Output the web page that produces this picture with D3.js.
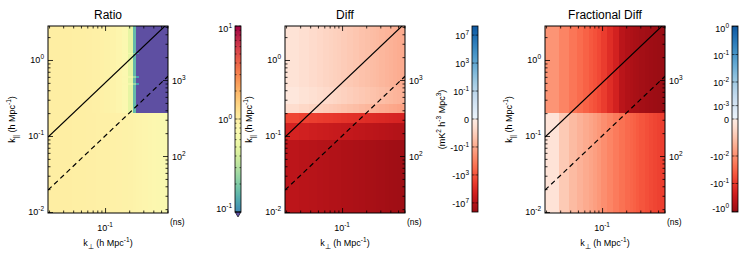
<!DOCTYPE html>
<html>
<head>
<meta charset="utf-8">
<script src="https://cdn.jsdelivr.net/npm/d3@7"></script>
<style>
  body { margin: 0; background: #fff; }
  svg { display: block; font-family: "Liberation Sans", Arial, sans-serif; }
</style>
</head>
<body>
<div id="chart"></div>
<script>
// k_perp bin edges (h Mpc^-1), shared by all three panels
const kPerpEdges = [0.0194, 0.0291, 0.0388, 0.0485, 0.0582, 0.0679, 0.0776, 0.0873, 0.097,
  0.1164, 0.1358, 0.1649, 0.194, 0.2231, 0.2425, 0.2619, 0.291, 0.3395, 0.388, 0.4365,
  0.485, 0.5335, 0.61];
const kParRange = [0.0097, 2.8];
const delayPerK = 1835; // ns per h Mpc^-1

// Ratio panel
const ratioParEdges = [0.0097, 0.2, 0.48, 0.51, 0.58, 0.62, 1.2, 1.26, 2.8];
const ratioLow = [1.0, 1.0, 0.99, 0.99, 0.98, 0.98, 0.97, 0.97, 0.96, 0.95, 0.94, 0.93,
  0.92, 0.9, 0.89, 0.88, 0.86, 0.84, 0.82, 0.8, 0.76, 0.72];
const ratioHigh = [1.0, 1.0, 0.99, 0.99, 0.98, 0.97, 0.96, 0.95, 0.93, 0.9, 0.86, 0.78,
  0.5, 0.16, 0.04, 0.04, 0.04, 0.04, 0.04, 0.04, 0.04, 0.04];
const ratioStreak = [1.0, 1.0, 0.99, 0.99, 0.98, 0.97, 0.96, 0.95, 0.93, 0.9, 0.86, 0.8,
  0.6, 0.25, 0.12, 0.04, 0.04, 0.04, 0.04, 0.04, 0.04, 0.04];
const ratioRows = [ratioLow, ratioHigh, ratioStreak, ratioHigh, ratioStreak, ratioHigh, ratioStreak, ratioHigh];

// Diff panel (mK^2 h^-3 Mpc^3)
const diffParEdges = [0.0097, 0.089, 0.148, 0.2, 0.264, 0.45, 2.8];
const diffBand0 = [-5.3e6, -7.2e6, -9.1e6, -1.1e7, -1.3e7, -1.5e7, -1.6e7, -1.8e7, -2.1e7,
  -2.4e7, -2.8e7, -3.3e7, -3.8e7, -4.2e7, -4.5e7, -4.9e7, -5.6e7, -6.5e7, -7.2e7, -8.1e7,
  -8.9e7, -9.7e7];
const diffBand1 = [-3e5, -4.6e5, -6.5e5, -8.2e5, -1e6, -1.2e6, -1.4e6, -1.6e6, -1.9e6,
  -2.4e6, -3e6, -3.7e6, -4.4e6, -5e6, -5.6e6, -6.3e6, -7.4e6, -8.9e6, -1e7, -1.2e7,
  -1.4e7, -1.6e7];
const diffBand2 = [-4e3, -6.3e3, -9.1e3, -1.2e4, -1.5e4, -1.8e4, -2.1e4, -2.5e4, -3e4,
  -3.8e4, -4.8e4, -6.1e4, -7.4e4, -8.7e4, -9.8e4, -1.1e5, -1.3e5, -1.6e5, -1.9e5, -2.2e5,
  -2.6e5, -3e5];
const diffBand3 = [-1.5e-4, -3.3e-4, -6e-4, -1e-3, -1.4e-3, -2e-3, -2.6e-3, -3.3e-3, -4.8e-3,
  -7e-3, -1e-2, -1.6e-2, -2.2e-2, -2.8e-2, -3.3e-2, -4.2e-2, -6e-2, -8e-2, -0.11, -0.14,
  -0.18, -0.24];
const diffBand4 = [-2e-5, -5e-5, -9e-5, -1.5e-4, -2.3e-4, -3.2e-4, -4.3e-4, -5.5e-4, -8e-4,
  -1.2e-3, -1.8e-3, -2.6e-3, -3.6e-3, -4.8e-3, -5.5e-3, -7e-3, -1e-2, -1.4e-2, -1.8e-2,
  -2.4e-2, -3e-2, -4e-2];
const diffBand5 = [-5e-5, -1.1e-4, -2e-4, -3.2e-4, -4.8e-4, -6.6e-4, -8.7e-4, -1.1e-3, -1.6e-3,
  -2.4e-3, -3.5e-3, -5.2e-3, -7.2e-3, -9.5e-3, -1.1e-2, -1.4e-2, -2e-2, -2.7e-2, -3.6e-2,
  -4.7e-2, -6.1e-2, -8e-2];
const diffRows = [diffBand0, diffBand1, diffBand2, diffBand3, diffBand4, diffBand5];

// Fractional diff panel
const fracParEdges = [0.0097, 0.2, 2.8];
const fracLow = [-2.8e-4, -1.4e-3, -2.5e-3, -3.3e-3, -4.2e-3, -5e-3, -6e-3, -7.5e-3, -1e-2,
  -1.3e-2, -1.7e-2, -2.2e-2, -2.7e-2, -3.1e-2, -3.5e-2, -4e-2, -4.7e-2, -5.5e-2, -6.3e-2,
  -7e-2, -7.8e-2, -8.5e-2];
const fracHigh = [-8.4e-3, -1.35e-2, -1.95e-2, -2.6e-2, -3.4e-2, -4.3e-2, -5.2e-2, -6.5e-2,
  -9e-2, -0.14, -0.22, -0.45, -0.55, -0.62, -0.68, -0.72, -0.78, -0.84, -0.88, -0.92,
  -0.96, -1.0];
const fracRows = [fracLow, fracHigh];

// wedge lines: k_par = slope * k_perp
const horizonSlope = 5.0;
const beamSlope = 1.0;

// tick labels
const kPerpTicks = [0.1];
const kParTicks = [0.01, 0.1, 1];
const delayTicks = [100, 1000];
const ratioTicks = [0.1, 1, 10];
const diffTicks = [1e7, 1e3, 1e-1, 0, -1e-1, -1e3, -1e7];
const fracTicks = [1, 1e-1, 1e-2, 1e-3, 0, -1e-2, -1e-1, -1];

const W = 742, H = 267;
const plotTop = 26, plotH = 187, plotW = 120;
const panelX = [48, 285, 545];
const cbX = [235, 472, 732], cbW = 6, cbTop = 26, cbBottom = 212;

const svg = d3.select('#chart').append('svg').attr('width', W).attr('height', H);

const x = d3.scaleLog().domain([kPerpEdges[0], kPerpEdges[kPerpEdges.length - 1]]).range([0, plotW]);
const y = d3.scaleLog().domain(kParRange).range([plotH, 0]);
const yDelay = d3.scaleLog().domain(kParRange.map(k => k * delayPerK)).range([plotH, 0]);

// colour maps
const ratioColor = v => v < 0.1 ? '#5e4fa2'
  : d3.interpolateSpectral(0.45 * (1 - Math.log10(Math.min(v, 10))));
const diffNorm = d3.scaleSymlog().constant(1e-5).domain([-2e8, 2e8]).range([-1, 1]).clamp(true);
const fracNorm = d3.scaleSymlog().constant(5e-4).domain([-1.05, 1.05]).range([-1, 1]).clamp(true);
const divColor = s => s < 0 ? d3.interpolateReds(0.05 + 0.85 * -s) : d3.interpolateBlues(0.05 + 0.8 * s);

const isPow10 = t => Math.abs(Math.log10(t) - Math.round(Math.log10(t))) < 1e-6;

function powLabel(text, v) {
  if (v === 0) { text.append('tspan').text('0'); return; }
  const e = Math.round(Math.log10(Math.abs(v)));
  text.append('tspan').text((v < 0 ? '-' : '') + '10');
  text.append('tspan').attr('dy', -4).attr('font-size', 6.5).text(e);
}

function addTicks(g, axisFn, scale, majors, transform) {
  const minors = scale.ticks().filter(t => !isPow10(t));
  g.append('g').attr('transform', transform)
    .call(axisFn(scale).tickValues(majors).tickSize(-5).tickFormat(''))
    .call(a => a.select('.domain').remove());
  g.append('g').attr('transform', transform)
    .call(axisFn(scale).tickValues(minors).tickSize(-2.5).tickFormat(''))
    .call(a => a.select('.domain').remove());
}

const panels = [
  {title: 'Ratio', edges: ratioParEdges, rows: ratioRows, color: ratioColor},
  {title: 'Diff', edges: diffParEdges, rows: diffRows, color: v => divColor(diffNorm(v))},
  {title: 'Fractional Diff', edges: fracParEdges, rows: fracRows, color: v => divColor(fracNorm(v))}
];

panels.forEach((p, i) => {
  const g = svg.append('g').attr('transform', `translate(${panelX[i]},${plotTop})`);
  const clipId = 'clip' + i;
  g.append('clipPath').attr('id', clipId).append('rect').attr('width', plotW).attr('height', plotH);

  const cells = [];
  p.rows.forEach((row, r) => row.forEach((v, c) => cells.push({r, c, v})));
  g.append('g').attr('clip-path', `url(#${clipId})`).selectAll('rect')
    .data(cells).join('rect')
    .attr('x', d => x(kPerpEdges[d.c]))
    .attr('width', d => x(kPerpEdges[d.c + 1]) - x(kPerpEdges[d.c]) + 0.3)
    .attr('y', d => y(p.edges[d.r + 1]))
    .attr('height', d => y(p.edges[d.r]) - y(p.edges[d.r + 1]) + 0.3)
    .attr('fill', d => p.color(d.v))
    .attr('shape-rendering', 'crispEdges');

  const kLine = x.domain();
  const line = s => d3.line().x(k => x(k)).y(k => y(k * s))(kLine);
  const lines = g.append('g').attr('clip-path', `url(#${clipId})`);
  lines.append('path').attr('d', line(horizonSlope)).attr('fill', 'none')
    .attr('stroke', '#000').attr('stroke-width', 1.2);
  lines.append('path').attr('d', line(beamSlope)).attr('fill', 'none')
    .attr('stroke', '#000').attr('stroke-width', 1.2).attr('stroke-dasharray', '5,3.5');

  addTicks(g, d3.axisBottom, x, kPerpTicks, `translate(0,${plotH})`);
  addTicks(g, d3.axisTop, x, kPerpTicks, 'translate(0,0)');
  addTicks(g, d3.axisLeft, y, kParTicks, 'translate(0,0)');
  addTicks(g, d3.axisRight, yDelay, delayTicks, `translate(${plotW},0)`);
  g.selectAll('.tick line').attr('stroke', '#000').attr('stroke-width', 0.8);

  g.append('rect').attr('width', plotW).attr('height', plotH)
    .attr('fill', 'none').attr('stroke', '#000').attr('stroke-width', 1);

  // labels
  kPerpTicks.forEach(t => powLabel(g.append('text').attr('x', x(t)).attr('y', plotH + 18)
    .attr('text-anchor', 'middle').attr('font-size', 9), t));
  kParTicks.forEach(t => powLabel(g.append('text').attr('x', -4).attr('y', y(t) + 3)
    .attr('text-anchor', 'end').attr('font-size', 9), t));
  delayTicks.forEach(t => powLabel(g.append('text').attr('x', plotW + 4).attr('y', yDelay(t) + 4)
    .attr('font-size', 9), t));
  g.append('text').attr('x', plotW + 2).attr('y', plotH + 12).attr('font-size', 8.5).text('(ns)');

  g.append('text').attr('x', plotW / 2).attr('y', -7).attr('text-anchor', 'middle')
    .attr('font-size', 12).text(p.title);

  const xl = g.append('text').attr('x', plotW / 2).attr('y', plotH + 33)
    .attr('text-anchor', 'middle').attr('font-size', 9);
  xl.append('tspan').text('k');
  xl.append('tspan').attr('dy', 2.5).attr('font-size', 6.5).text('⊥');
  xl.append('tspan').attr('dy', -2.5).text(' (h Mpc');
  xl.append('tspan').attr('dy', -4).attr('font-size', 6.5).text('-1');
  xl.append('tspan').attr('dy', 4).text(')');

  const yl = g.append('text').attr('transform', `translate(-33,${plotH / 2}) rotate(-90)`)
    .attr('text-anchor', 'middle').attr('font-size', 9);
  yl.append('tspan').text('k');
  yl.append('tspan').attr('dy', 2.5).attr('font-size', 6.5).text('||');
  yl.append('tspan').attr('dy', -2.5).text(' (h Mpc');
  yl.append('tspan').attr('dy', -4).attr('font-size', 6.5).text('-1');
  yl.append('tspan').attr('dy', 4).text(')');
});

// colour bars
const cbScales = [
  d3.scaleLog().domain([0.1, 10]).range([cbBottom, cbTop]),
  d3.scaleSymlog().constant(1e-5).domain([-2e8, 2e8]).range([cbBottom, cbTop]),
  d3.scaleSymlog().constant(5e-4).domain([-1.05, 1.05]).range([cbBottom, cbTop])
];
const cbTicks = [ratioTicks, diffTicks, fracTicks];
const cbColors = [ratioColor, v => divColor(diffNorm(v)), v => divColor(fracNorm(v))];

cbScales.forEach((sc, i) => {
  const g = svg.append('g');
  const pix = d3.range(cbTop, cbBottom);
  g.selectAll('rect.px').data(pix).join('rect').attr('class', 'px')
    .attr('x', cbX[i]).attr('width', cbW).attr('y', d => d).attr('height', 1.2)
    .attr('fill', d => cbColors[i](i === 0 ? Math.max(sc.invert(d + 0.5), 0.1) : sc.invert(d + 0.5)))
    .attr('shape-rendering', 'crispEdges');
  if (i === 0) {
    g.append('path')
      .attr('d', `M${cbX[i]},${cbBottom}L${cbX[i] + cbW},${cbBottom}L${cbX[i] + cbW / 2},${cbBottom + 5}Z`)
      .attr('fill', '#5e4fa2').attr('stroke', '#000').attr('stroke-width', 0.6);
  }
  g.append('rect').attr('x', cbX[i]).attr('y', cbTop).attr('width', cbW).attr('height', cbBottom - cbTop)
    .attr('fill', 'none').attr('stroke', '#000').attr('stroke-width', 0.8);

  let minor = [];
  if (i === 0) minor = sc.ticks().filter(t => !isPow10(t));
  cbTicks[i].concat(minor).forEach(t => {
    const len = minor.includes(t) ? 1.5 : 2.5;
    [[cbX[i], cbX[i] + len], [cbX[i] + cbW, cbX[i] + cbW - len]].forEach(([a, b]) =>
      g.append('line').attr('x1', a).attr('x2', b).attr('y1', sc(t)).attr('y2', sc(t))
        .attr('stroke', '#000').attr('stroke-width', 0.6));
  });
  cbTicks[i].forEach(t => powLabel(g.append('text').attr('x', cbX[i] - 3)
    .attr('y', Math.min(Math.max(sc(t) + 4, cbTop + 6), cbBottom))
    .attr('text-anchor', 'end').attr('font-size', 9), t));
});

// diff colour bar label
const dl = svg.append('text').attr('transform', `translate(445,${plotTop + plotH / 2}) rotate(-90)`)
  .attr('text-anchor', 'middle').attr('font-size', 9);
dl.append('tspan').text('(mK');
dl.append('tspan').attr('dy', -4).attr('font-size', 6.5).text('2');
dl.append('tspan').attr('dy', 4).text(' h');
dl.append('tspan').attr('dy', -4).attr('font-size', 6.5).text('-3');
dl.append('tspan').attr('dy', 4).text(' Mpc');
dl.append('tspan').attr('dy', -4).attr('font-size', 6.5).text('3');
dl.append('tspan').attr('dy', 4).text(')');
</script>
</body>
</html>
